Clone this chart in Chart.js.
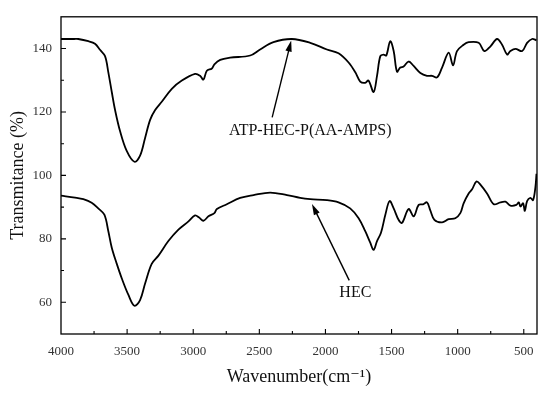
<!DOCTYPE html>
<html>
<head>
<meta charset="utf-8">
<script src="https://cdn.jsdelivr.net/npm/chart.js@4"></script>
<style>
  html, body { margin: 0; padding: 0; background: #fff; }
  #wrap { width: 550px; height: 396px; position: relative; }
</style>
</head>
<body>
<div id="wrap"><canvas id="ftirChart"></canvas></div>
<script>
// ATP-HEC-P(AA-AMPS) spectrum (upper curve)
const atpWavenumber = [4000, 3900, 3869, 3793, 3743, 3705, 3667, 3642, 3616, 3591, 3553, 3503, 3445, 3402, 3364, 3326, 3288, 3238, 3162, 3086, 2986, 2948, 2923, 2897, 2859, 2840, 2796, 2721, 2569, 2494, 2393, 2254, 2115, 1989, 1901, 1825, 1774, 1737, 1699, 1674, 1636, 1610, 1585, 1560, 1540, 1510, 1484, 1459, 1434, 1409, 1371, 1333, 1282, 1232, 1194, 1156, 1118, 1068, 1035, 1005, 955, 917, 841, 798, 752, 702, 664, 626, 601, 563, 512, 475, 437, 404];
const atpTransmit = [143.0, 143.0, 143.0, 142.3, 141.5, 139.6, 137.6, 132.5, 126.3, 120.6, 113.9, 107.7, 104.3, 106.2, 111.8, 117.5, 120.6, 123.2, 127.3, 129.9, 132.0, 131.4, 130.2, 133.0, 133.7, 135.0, 136.4, 137.1, 137.8, 139.7, 142.0, 143.0, 141.8, 139.7, 138.5, 135.6, 132.5, 129.6, 129.2, 129.9, 126.3, 131.4, 137.6, 138.1, 137.8, 142.3, 139.2, 132.7, 134.0, 134.3, 135.9, 134.5, 132.3, 131.4, 131.4, 130.9, 134.0, 138.7, 134.7, 139.2, 141.2, 142.0, 141.8, 139.2, 140.7, 143.0, 141.2, 138.1, 139.2, 139.9, 139.2, 141.8, 143.0, 142.6];

// HEC spectrum (lower curve)
const hecWavenumber = [4000, 3894, 3831, 3768, 3718, 3672, 3642, 3616, 3578, 3540, 3490, 3445, 3402, 3364, 3314, 3263, 3188, 3112, 3036, 2986, 2955, 2923, 2885, 2840, 2821, 2746, 2645, 2544, 2418, 2291, 2191, 2115, 1989, 1901, 1813, 1749, 1699, 1661, 1636, 1610, 1580, 1547, 1515, 1484, 1447, 1421, 1371, 1333, 1295, 1262, 1232, 1207, 1176, 1118, 1068, 1018, 980, 955, 917, 891, 858, 828, 778, 727, 677, 639, 601, 556, 538, 525, 505, 492, 475, 450, 430, 412, 404];
const hecTransmit = [93.6, 93.0, 92.5, 91.4, 89.6, 87.6, 82.4, 77.2, 72.1, 67.5, 62.3, 58.9, 60.7, 65.9, 72.1, 74.7, 79.3, 82.9, 85.5, 87.4, 86.7, 85.7, 87.1, 88.1, 89.4, 90.9, 92.9, 93.8, 94.6, 93.8, 92.9, 92.5, 92.2, 91.5, 89.6, 86.5, 82.4, 78.8, 76.5, 79.3, 81.9, 87.6, 91.9, 89.6, 86.0, 85.0, 89.4, 87.1, 90.7, 90.9, 91.5, 89.0, 86.0, 85.2, 86.2, 86.5, 88.1, 91.2, 94.3, 95.6, 98.1, 97.1, 94.3, 90.9, 91.5, 91.7, 90.5, 90.7, 91.5, 90.2, 91.2, 88.8, 91.9, 92.9, 92.2, 96.3, 100.5];

// axis setup
const xMin = 400, xMax = 4000, xStep = 250, xLabelEvery = 500;
const yMin = 50, yMax = 150, yStep = 10, yLabelEvery = 20;

// labels with arrows, in data units
const notes = [
  { text: 'ATP-HEC-P(AA-AMPS)', at: [2115, 114.0], from: [2403, 118.3], to: [2259, 142.5] },
  { text: 'HEC', at: [1774, 62.9], from: [1820, 66.9], to: [2102, 91.0] }
];

const serif = "'Liberation Serif', 'DejaVu Serif', serif";

function toPoints(xs, ys) {
  return xs.map((x, i) => ({ x: x, y: ys[i] }));
}

// frame, inward ticks, annotations
const framePlugin = {
  id: 'frame',
  afterDraw(chart) {
    const ctx = chart.ctx;
    const a = chart.chartArea;
    const xs = chart.scales.x, ys = chart.scales.y;
    ctx.save();
    ctx.strokeStyle = '#000';
    ctx.lineWidth = 1.3;
    ctx.strokeRect(a.left, a.top, a.right - a.left, a.bottom - a.top);

    ctx.lineWidth = 1.1;
    ctx.beginPath();
    xs.ticks.forEach(t => {
      if (t.value <= xMin || t.value >= xMax) return;
      const px = xs.getPixelForValue(t.value);
      const len = t.value % xLabelEvery === 0 ? 5 : 3;
      ctx.moveTo(px, a.bottom);
      ctx.lineTo(px, a.bottom - len);
    });
    ys.ticks.forEach(t => {
      if (t.value <= yMin || t.value >= yMax) return;
      const py = ys.getPixelForValue(t.value);
      const len = t.value % yLabelEvery === 0 ? 5 : 3;
      ctx.moveTo(a.left, py);
      ctx.lineTo(a.left + len, py);
    });
    ctx.stroke();

    notes.forEach(n => {
      const x1 = xs.getPixelForValue(n.from[0]), y1 = ys.getPixelForValue(n.from[1]);
      const x2 = xs.getPixelForValue(n.to[0]), y2 = ys.getPixelForValue(n.to[1]);
      const ang = Math.atan2(y2 - y1, x2 - x1);
      const head = 11, half = 3.2;
      ctx.lineWidth = 1.4;
      ctx.beginPath();
      ctx.moveTo(x1, y1);
      ctx.lineTo(x2 - Math.cos(ang) * head * 0.8, y2 - Math.sin(ang) * head * 0.8);
      ctx.stroke();
      ctx.beginPath();
      ctx.moveTo(x2, y2);
      ctx.lineTo(x2 - Math.cos(ang) * head - Math.sin(ang) * half, y2 - Math.sin(ang) * head + Math.cos(ang) * half);
      ctx.lineTo(x2 - Math.cos(ang) * head + Math.sin(ang) * half, y2 - Math.sin(ang) * head - Math.cos(ang) * half);
      ctx.closePath();
      ctx.fillStyle = '#000';
      ctx.fill();

      ctx.font = '16px ' + serif;
      ctx.textAlign = 'center';
      ctx.textBaseline = 'middle';
      ctx.fillStyle = '#111';
      ctx.fillText(n.text, xs.getPixelForValue(n.at[0]), ys.getPixelForValue(n.at[1]));
    });
    ctx.restore();
  }
};

const data = {
  datasets: [
    {
      label: 'ATP-HEC-P(AA-AMPS)',
      data: toPoints(atpWavenumber, atpTransmit),
      borderColor: '#000',
      borderWidth: 1.8,
      pointRadius: 0,
      tension: 0.35,
      fill: false
    },
    {
      label: 'HEC',
      data: toPoints(hecWavenumber, hecTransmit),
      borderColor: '#000',
      borderWidth: 1.8,
      pointRadius: 0,
      tension: 0.35,
      fill: false
    }
  ]
};

const config = {
  type: 'line',
  data: data,
  options: {
    responsive: true,
    maintainAspectRatio: false,
    animation: false,
    layout: {
      padding: { top: 12, right: 13, left: 0, bottom: 0 }
    },
    scales: {
      x: {
        type: 'linear',
        reverse: true,
        min: xMin,
        max: xMax,
        afterFit(scale) { scale.height = 62; },
        afterBuildTicks(scale) {
          const list = [];
          for (let v = xMax; v > xMin; v -= xStep) list.push({ value: v });
          scale.ticks = list.reverse();
        },
        grid: { display: false, drawTicks: false },
        border: { display: false },
        ticks: {
          autoSkip: false,
          maxRotation: 0,
          padding: 10,
          color: '#333',
          font: { family: serif, size: 13 },
          callback: v => (v % xLabelEvery === 0 ? v : '')
        },
        title: {
          display: true,
          text: 'Wavenumber(cm⁻¹)',
          color: '#111',
          font: { family: serif, size: 18 },
          padding: { top: 0, bottom: 8 }
        }
      },
      y: {
        min: yMin,
        max: yMax,
        afterFit(scale) { scale.width = 61; },
        grid: { display: false, drawTicks: false },
        border: { display: false },
        ticks: {
          stepSize: yStep,
          autoSkip: false,
          padding: 9,
          color: '#333',
          font: { family: serif, size: 13 },
          callback: v => (v % yLabelEvery === 0 ? v : '')
        },
        title: {
          display: true,
          text: 'Transmitance (%)',
          color: '#111',
          font: { family: serif, size: 18 },
          padding: { top: 7, bottom: 0 }
        }
      }
    },
    plugins: {
      legend: { display: false },
      tooltip: { enabled: false }
    }
  },
  plugins: [framePlugin]
};

new Chart(document.getElementById('ftirChart'), config);
</script>
</body>
</html>
